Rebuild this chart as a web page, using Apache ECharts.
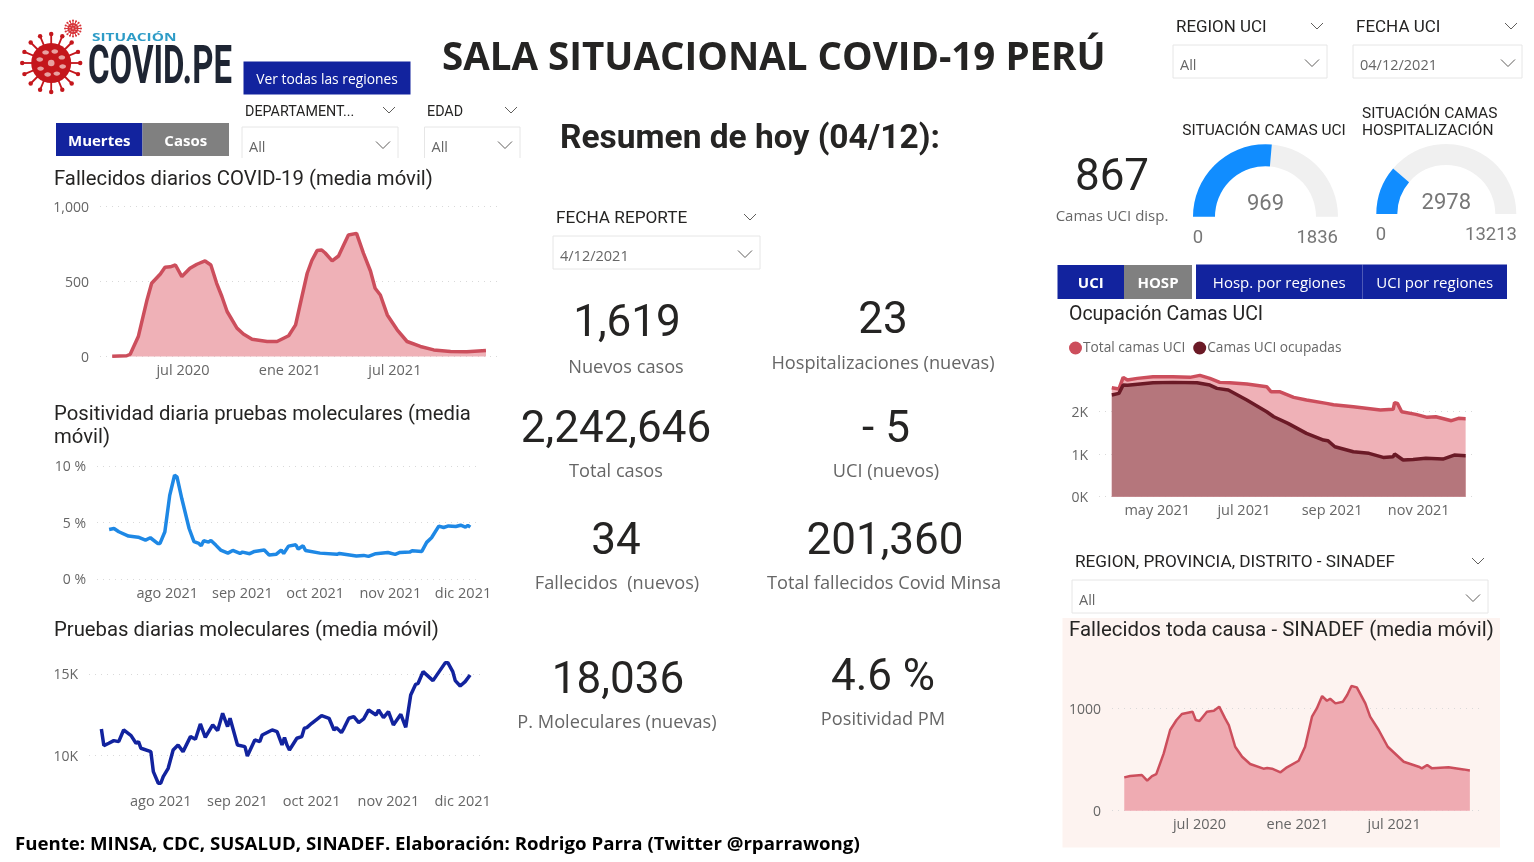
<!DOCTYPE html>
<html>
<head>
<meta charset="utf-8">
<title>Sala situacional COVID-19 Perú</title>
<script src="https://cdn.jsdelivr.net/npm/echarts@6/dist/echarts.min.js"></script>
<style>
  html, body { margin: 0; padding: 0; background: #fff; }
  #chart { width: 1534px; height: 862px; }
</style>
</head>
<body>
<div id="chart"></div>
<script>
// fallecidos diarios
const deathStart = "2020-03-01"
const deathDays = [0,25,31,45,60,68,83,91,100,109,120,134,146,160,170,180,189,198,215,226,241,267,284,304,316,324,336,344,353,361,367,379,390,399,407,421,433,445,453,462,474,491,508,531,554,583,611,644]
const deathValues = [2,5,15,133,377,488,550,595,598,610,533,588,615,637,610,488,400,300,189,150,115,100,100,138,211,350,555,640,706,710,690,637,670,745,810,821,688,570,455,410,277,178,100,67,44,33,31,40]
const deathTicks = ["2020-07-01","2021-01-01","2021-07-01"]
// positividad
const posStart = "2021-07-08"
const posDays = [0,2,4,8,12,15,17,20,21,23,25,27,28,30,33,35,37,38,39,41,42,44,46,49,51,54,55,58,60,64,66,69,71,72,74,77,78,80,81,87,94,95,102,105,107,110,115,118,120,124,125,129,131,133,136,138,140,143,145,147,148,149]
const posValues = [4.38,4.47,4.18,3.8,3.7,3.44,3.65,3.15,3.15,4.18,7.4,9.18,9.03,7.1,4.47,3.3,3.15,2.94,3.38,3.26,3.41,3.0,2.56,2.29,2.53,2.26,2.38,2.24,2.44,2.56,2.12,2.2,2.56,2.26,2.91,3.03,2.65,2.94,2.53,2.29,2.18,2.26,2.03,2.09,2.0,2.24,2.35,2.18,2.35,2.38,2.5,2.44,3.24,3.65,4.68,4.56,4.7,4.65,4.76,4.59,4.74,4.59]
// pruebas moleculares
const testDays = [0,1,3,5,7,9,12,14,15,16,20,21,23,24,25,27,29,31,33,36,38,40,42,45,47,49,51,52,55,58,59,62,64,65,69,71,73,74,75,76,79,81,82,83,85,89,92,94,95,97,98,100,102,104,106,108,111,112,114,116,118,121,123,125,127,128,130,134,139,140,142,143,145,147,149]
const testValues = [11619,10594,10738,10902,10840,11557,11209,10738,10840,10430,10225,8996,8279,8279,8689,9200,10328,10635,10225,11148,10984,11926,11107,11865,11516,12582,11762,12275,10635,10533,9959,10943,10840,11250,11557,11455,10635,11086,10635,10328,11045,11148,11660,11700,11967,12439,12275,11557,11700,11393,11660,12275,12377,12008,12234,12787,12480,12787,12316,12684,11865,12520,11721,13709,14365,14426,15143,14590,15697,15697,15143,14590,14262,14529,14939]
const molecularTicks = ["2021-08-01","2021-09-01","2021-10-01","2021-11-01","2021-12-01"]
// camas UCI
const uciStart = "2021-03-30"
const uciTotalDays = [0,5,8,11,18,29,43,55,62,69,76,83,95,109,112,118,128,137,151,156,170,189,198,199,201,204,214,222,228,239,244,249]
const uciTotalValues = [2565,2533,2808,2745,2784,2824,2824,2808,2855,2784,2690,2682,2651,2588,2471,2471,2337,2275,2196,2165,2118,2039,2055,2212,2196,2000,1937,1867,1882,1788,1843,1835]
const uciUsedDays = [0,5,8,11,20,29,43,60,69,74,82,95,109,114,124,137,149,152,157,170,181,191,198,199,205,212,221,233,241,249]
const uciUsedValues = [2392,2431,2627,2620,2651,2682,2690,2682,2627,2549,2510,2275,2000,1882,1725,1490,1333,1318,1176,1059,1020,925,941,1004,863,878,902,886,980,965]
const uciTicks = ["2021-05-01","2021-07-01","2021-09-01","2021-11-01"]
// SINADEF
const sinadefStart = "2020-02-11"
const sinadefDays = [0,11,33,43,52,60,74,86,98,108,128,134,141,155,168,178,189,196,208,221,236,261,268,277,293,305,327,339,352,361,371,380,386,396,410,418,426,436,452,461,477,494,524,552,558,568,577,608,636,648]
const sinadefValues = [327,340,350,294,340,359,562,791,889,948,971,889,879,971,980,1020,905,840,627,529,458,412,418,412,376,425,490,627,922,1003,1124,1078,1098,1052,1069,1134,1222,1209,1052,922,791,627,480,431,415,448,415,425,405,395]
// indicadores
const kpis = [
  ["1,619", "Nuevos casos", 627, 320, 626, 366],
  ["23", "Hospitalizaciones (nuevas)", 883, 317, 883, 362],
  ["2,242,646", "Total casos", 616, 426, 616, 470],
  ["- 5", "UCI (nuevos)", 886, 426, 886, 470],
  ["34", "Fallecidos  (nuevos)", 616, 538, 617, 582],
  ["201,360", "Total fallecidos Covid Minsa", 885, 538, 884, 582],
  ["18,036", "P. Moleculares (nuevas)", 618, 677, 617, 721],
  ["4.6 %", "Positividad PM", 883, 674, 883, 718]
]
const uciBeds = 969, uciBedsMax = 1836
const hospBeds = 2978, hospBedsMax = 13213

const MONTHS = ["ene","feb","mar","abr","may","jun","jul","ago","sep","oct","nov","dic"]
const DIN = "Roboto"
const UI = "'Open Sans'"
const NAVY = "#12239E"
const GREY = "#808080"
const INK = "#252423"
const SOFT = "#666666"

let ts = str => new Date(str + "T00:00:00").getTime()
let points = (start, days, values) => days.map((d, i) => [ts(start) + d * 86400000, values[i]])

let addGrid = (left, right, top, bottom) => ({ left, width: right - left, top, height: bottom - top })

// eje de fechas en milisegundos, etiquetas solo en los meses pedidos
let addX = (idx, min, max, ticks) => ({
  type: "value",
  gridIndex: idx,
  min: ts(min),
  max: ts(max),
  axisLine: { show: false },
  axisTick: { show: false },
  splitLine: { show: false },
  axisLabel: {
    customValues: ticks.map(ts),
    color: SOFT,
    fontFamily: UI,
    fontSize: 14.5,
    margin: 7,
    formatter: v => {
      let d = new Date(v)
      return MONTHS[d.getMonth()] + " " + d.getFullYear()
    }
  }
})

let addY = (idx, min, max, ticks, fmt) => ({
  type: "value",
  gridIndex: idx,
  min,
  max,
  axisLine: { show: false },
  axisTick: { show: false, customValues: ticks },
  splitLine: {
    show: true,
    showMinLine: true,
    showMaxLine: true,
    lineStyle: { color: "#d9d9d9", type: [1, 5], width: 1 }
  },
  axisLabel: {
    customValues: ticks,
    color: SOFT,
    fontFamily: UI,
    fontSize: 14,
    margin: 11,
    verticalAlign: "top",
    lineHeight: 3,
    formatter: fmt
  }
})

let addLine = (name, idx, data, color, width, fill) => ({
  name,
  type: "line",
  xAxisIndex: idx,
  yAxisIndex: idx,
  data,
  showSymbol: false,
  symbol: "circle",
  itemStyle: { color },
  lineStyle: { color, width },
  areaStyle: fill ? { color: fill, opacity: 1 } : undefined,
  silent: true
})

let addGauge = (value, max, cx, cy, radius, thick, offset, size) => ({
  type: "gauge",
  min: 0,
  max,
  startAngle: 180,
  endAngle: 0,
  center: [cx, cy],
  radius,
  pointer: { show: false },
  axisTick: { show: false },
  splitLine: { show: false },
  axisLabel: { show: false },
  axisLine: { lineStyle: { width: thick, color: [[value / max, "#118DFF"], [1, "#F0F0F0"]] } },
  title: { show: false },
  detail: {
    offsetCenter: [0, offset],
    color: "#777777",
    fontFamily: DIN,
    fontWeight: "normal",
    fontSize: size,
    formatter: "{value}"
  },
  data: [{ value }],
  silent: true
})

let text = (x, y, str, size, color, opts, scaleX) => ({
  type: "text",
  x,
  y: y + 2,
  scaleX: scaleX || 1,
  silent: true,
  style: Object.assign({
    text: str,
    fill: color || INK,
    fontSize: size,
    fontFamily: DIN,
    textAlign: "left",
    textVerticalAlign: "middle"
  }, opts || {})
})

let box = (x, y, w, h, fill, stroke) => ({
  type: "rect",
  silent: true,
  shape: { x, y, width: w, height: h },
  style: { fill: fill || "transparent", stroke: stroke || null, lineWidth: 1 }
})

let chevron = (x, y, w) => ({
  type: "polyline",
  silent: true,
  shape: { points: [[x - w, y - w / 2], [x, y + w / 2], [x + w, y - w / 2]] },
  style: { stroke: "#605E5C", lineWidth: 1, fill: null }
})

// slicer = titulo + caja con valor
let slicer = (titleStr, tx, ty, chevTx, bx, by, bw, bh, value, chevBx, size, openBottom) => {
  let out = [text(tx, ty, titleStr, size, INK), chevron(chevTx, ty, 6)]
  if (openBottom) {
    out.push({
      type: "polyline",
      silent: true,
      shape: { points: [[bx, by + bh], [bx, by], [bx + bw, by], [bx + bw, by + bh]] },
      style: { stroke: "#E6E6E6", lineWidth: 1, fill: null }
    })
  } else {
    out.push(box(bx, by, bw, bh, null, "#E6E6E6"))
  }
  out.push(text(bx + 7, by + 19, value, 14.5, SOFT, { fontFamily: UI }))
  out.push(chevron(chevBx, by + 18, 7))
  return out
}

let button = (x, y, w, h, fill, label, size, bold) => [
  box(x, y, w, h, fill),
  text(x + w / 2, y + h / 2, label, size, "#ffffff", {
    textAlign: "center",
    fontFamily: UI,
    fontWeight: bold ? "bold" : "normal"
  })
]

// virus del logo
let virus = (cx, cy, r, color) => {
  let parts = []
  let spikes = 16
  for (let i = 0; i < spikes; i++) {
    let a = (i / spikes) * Math.PI * 2
    let ex = cx + Math.cos(a) * r * 1.45
    let ey = cy + Math.sin(a) * r * 1.45
    parts.push({
      type: "line",
      silent: true,
      shape: { x1: cx, y1: cy, x2: ex, y2: ey },
      style: { stroke: color, lineWidth: Math.max(1, r / 11) }
    })
    parts.push({
      type: "circle",
      silent: true,
      shape: { cx: ex, cy: ey, r: Math.max(1, r / 9) },
      style: { fill: color }
    })
  }
  parts.push({ type: "circle", silent: true, shape: { cx, cy, r }, style: { fill: color } })
  for (let i = 0; i < 8; i++) {
    let a = (i / 8) * Math.PI * 2 + 0.3
    parts.push({
      type: "ellipse",
      silent: true,
      shape: { cx: cx + Math.cos(a) * r * 0.6, cy: cy + Math.sin(a) * r * 0.6, rx: r / 6, ry: r / 9 },
      style: { fill: "#E8A0A0" }
    })
  }
  parts.push({ type: "circle", silent: true, shape: { cx, cy, r: r / 6 }, style: { fill: "#E8A0A0" } })
  return parts
}

let graphics = [
  box(1062.5, 618, 437.5, 229.5, "#FDF3F0"),
  ...virus(51.2, 63, 20, "#C4161C"),
  ...virus(73, 28.5, 5.5, "#D8343A"),
  text(92, 36, "SITUACIÓN", 11, "#2E9CC7", { fontWeight: "bold", fontFamily: UI }, 1.4),
  text(88, 67, "COVID.PE", 54, "#1E2533", { fontWeight: "bold" }, 0.61),
  text(442, 57, "SALA SITUACIONAL COVID-19 PERÚ", 38.5, INK, { fontWeight: "bold", fontFamily: UI }),
  ...button(243.5, 61.5, 167, 33, NAVY, "Ver todas las regiones", 13.8),
  ...button(56, 123, 86.5, 33, NAVY, "Muertes", 15, true),
  ...button(142.5, 123, 86.5, 33, GREY, "Casos", 15, true),
  ...slicer("DEPARTAMENT...", 245, 110, 389, 242, 127, 156, 31, "All", 383, 14.3, true),
  ...slicer("EDAD", 427, 110, 511, 424.5, 127, 95.5, 31, "All", 505, 14.3, true),
  ...slicer("FECHA REPORTE", 556, 217, 750, 553, 236, 207, 33, "4/12/2021", 745, 17.2),
  ...slicer("REGION UCI", 1176, 26, 1317, 1173, 45, 154, 33, "All", 1312, 16.9),
  ...slicer("FECHA UCI", 1356, 26, 1511, 1353, 45, 169, 33, "04/12/2021", 1508, 17),
  ...slicer("REGION, PROVINCIA, DISTRITO - SINADEF", 1075, 561, 1478, 1072, 580, 416, 33, "All", 1473, 17.2),
  text(54, 178, "Fallecidos diarios COVID-19 (media móvil)", 20.3),
  text(54, 413, "Positividad diaria pruebas moleculares (media", 20.3),
  text(54, 436, "móvil)", 20.3),
  text(54, 629, "Pruebas diarias moleculares (media móvil)", 20.3),
  text(560, 138, "Resumen de hoy (04/12):", 33.5, INK, { fontWeight: "bold" }),
  text(1112, 177, "867", 44, INK, { textAlign: "center" }),
  text(1112, 215, "Camas UCI disp.", 15, SOFT, { textAlign: "center", fontFamily: UI }),
  text(1264, 129, "SITUACIÓN CAMAS UCI", 15.5, INK, { textAlign: "center" }),
  text(1362, 112, "SITUACIÓN CAMAS", 15.5),
  text(1362, 129, "HOSPITALIZACIÓN", 15.5),
  text(1198, 236, "0", 18.5, "#777777", { textAlign: "center" }),
  text(1338, 236, String(uciBedsMax), 18.5, "#777777", { textAlign: "right" }),
  text(1381, 233, "0", 18.5, "#777777", { textAlign: "center" }),
  text(1517, 233, String(hospBedsMax), 18.5, "#777777", { textAlign: "right" }),
  ...button(1057.5, 265, 66.5, 34, NAVY, "UCI", 15, true),
  ...button(1124, 265, 68, 34, GREY, "HOSP", 15, true),
  ...button(1196, 264.5, 166.5, 34.5, NAVY, "Hosp. por regiones", 15),
  ...button(1362.5, 264.5, 144.5, 34.5, NAVY, "UCI por regiones", 15),
  text(1069, 313, "Ocupación Camas UCI", 19.5),
  text(1069, 629, "Fallecidos toda causa - SINADEF (media móvil)", 20.4),
  text(15, 843, "Fuente: MINSA, CDC, SUSALUD, SINADEF. Elaboración: Rodrigo Parra (Twitter @rparrawong)", 18.65, "#000000", { fontWeight: "bold", fontFamily: UI })
]
kpis.forEach(k => {
  graphics.push(text(k[2], k[3] + 3, k[0], 44, INK, { textAlign: "center" }))
  graphics.push(text(k[4], k[5], k[1], 18.2, SOFT, { textAlign: "center", fontFamily: UI }))
})

let option = {
  animation: false,
  backgroundColor: "#ffffff",
  textStyle: { fontFamily: UI },
  graphic: { elements: graphics },
  legend: {
    data: ["Total camas UCI", "Camas UCI ocupadas"],
    left: 1064,
    top: 336,
    icon: "circle",
    itemWidth: 13,
    itemHeight: 13,
    itemGap: 8,
    selectedMode: false,
    textStyle: { color: SOFT, fontFamily: UI, fontSize: 13.7, padding: [0, 0, 0, -4] }
  },
  grid: [
    addGrid(100, 497, 206.5, 356.5),
    addGrid(97, 480, 466, 579),
    addGrid(89, 480, 657.7, 787.8),
    addGrid(1099, 1477, 369.2, 496.7),
    addGrid(1112, 1480, 678.1, 810.7)
  ],
  xAxis: [
    addX(0, "2020-02-09", "2021-12-24", deathTicks),
    addX(1, "2021-07-03", "2021-12-08", molecularTicks),
    addX(2, "2021-07-03", "2021-12-08", molecularTicks),
    addX(3, "2021-03-21", "2021-12-12", uciTicks),
    addX(4, "2020-01-19", "2021-12-09", deathTicks)
  ],
  yAxis: [
    addY(0, 0, 1000, [0, 500, 1000], v => v === 1000 ? "1,000" : String(v)),
    addY(1, 0, 10, [0, 5, 10], v => v + " %"),
    addY(2, 8000, 16000, [10000, 15000], v => v / 1000 + "K"),
    addY(3, 0, 3000, [0, 1000, 2000], v => v / 1000 + "K"),
    addY(4, 0, 1300, [0, 1000], v => String(v))
  ],
  series: [
    addLine("Fallecidos", 0, points(deathStart, deathDays, deathValues), "#CC4E5C", 3.5, "#EFB1B7"),
    addLine("Positividad", 1, points(posStart, posDays, posValues), "#1E88E5", 3.5),
    addLine("Pruebas", 2, points(posStart, testDays, testValues), "#12239E", 3.5),
    addLine("Total camas UCI", 3, points(uciStart, uciTotalDays, uciTotalValues), "#CC4E5C", 3.5, "#EFB1B7"),
    addLine("Camas UCI ocupadas", 3, points(uciStart, uciUsedDays, uciUsedValues), "#6B1A26", 3.5, "#B5767C"),
    addLine("SINADEF", 4, points(sinadefStart, sinadefDays, sinadefValues), "#CC4E5C", 2.5, "#EFABB2"),
    addGauge(uciBeds, uciBedsMax, 1265.5, 216.7, 72.5, 22, -12, 22),
    addGauge(hospBeds, hospBedsMax, 1446.3, 214, 70, 21, -11, 22)
  ]
}

let chartEl = echarts.init(document.getElementById("chart"), null, { renderer: "canvas" })
chartEl.setOption(option)
</script>
</body>
</html>
